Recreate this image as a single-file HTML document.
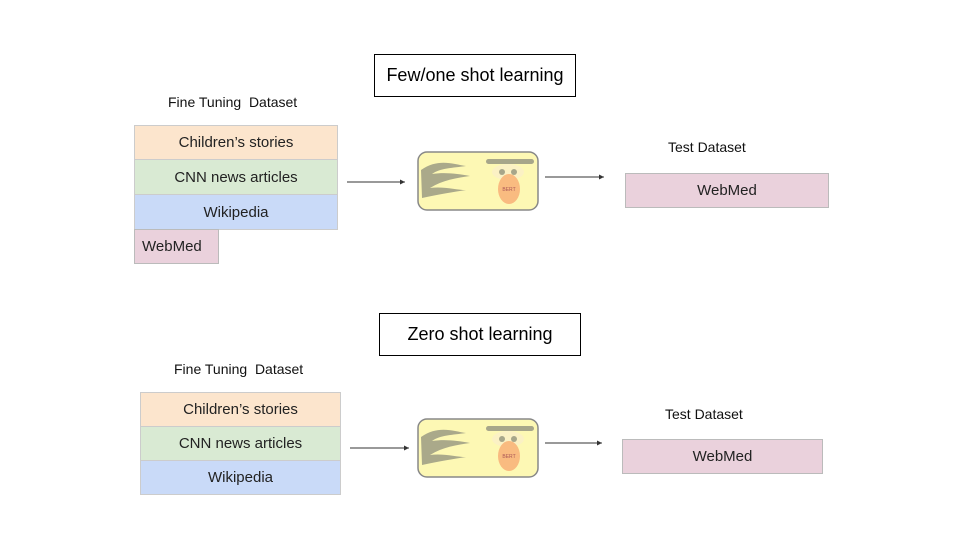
<!DOCTYPE html>
<html><head><style>
body{margin:0;width:960px;height:540px;background:#fff;position:relative;font-family:"Liberation Sans",sans-serif;overflow:hidden}
.a{position:absolute;box-sizing:border-box;display:flex;align-items:center;justify-content:center;font-size:15px;color:#222}
.c{background:#fce5cd;border:1px solid #ccc}
.g{background:#d9ead3;border:1px solid #ccc}
.b{background:#c9daf8;border:1px solid #ccc}
.p{background:#ead1dc;border:1px solid #bbb}
.t{border:1px solid #000;background:#fff;font-size:18px;color:#000}
.l{position:absolute;font-size:14px;color:#111;font-family:"Liberation Sans",sans-serif}
svg{position:absolute;left:0;top:0}
</style></head><body>
<div class="a t" style="left:374px;top:54px;width:202px;height:43px">Few/one shot learning</div>
<div class="a t" style="left:379px;top:313px;width:202px;height:43px">Zero shot learning</div>
<div class="l" style="left:168px;top:94px">Fine Tuning&nbsp; Dataset</div>
<div class="l" style="left:174px;top:361px">Fine Tuning&nbsp; Dataset</div>
<div class="l" style="left:668px;top:139px">Test Dataset</div>
<div class="l" style="left:665px;top:406px">Test Dataset</div>
<div class="a c" style="left:134px;top:125px;width:204px;height:35px">Children’s stories</div>
<div class="a g" style="left:134px;top:159px;width:204px;height:36px">CNN news articles</div>
<div class="a b" style="left:134px;top:194px;width:204px;height:36px">Wikipedia</div>
<div class="a p" style="left:134px;top:229px;width:85px;height:35px;justify-content:flex-start;padding-left:7px">WebMed</div>
<div class="a c" style="left:140px;top:392px;width:201px;height:35px">Children’s stories</div>
<div class="a g" style="left:140px;top:426px;width:201px;height:35px">CNN news articles</div>
<div class="a b" style="left:140px;top:460px;width:201px;height:35px">Wikipedia</div>
<div class="a p" style="left:625px;top:173px;width:204px;height:35px">WebMed</div>
<div class="a p" style="left:622px;top:439px;width:201px;height:35px">WebMed</div>
<svg width="960" height="540">
<defs>
<marker id="m" markerWidth="6" markerHeight="6" refX="5" refY="3" orient="auto"><path d="M0,0.5 L5,3 L0,5.5z" fill="#333"/></marker>
<g id="bert">
<rect x="0" y="0" width="120" height="58" rx="9" fill="#fdf8b4" stroke="#888" stroke-width="1.5"/>
<path d="M3,18 C20,6 35,12 48,14 C35,16 22,16 14,22 C28,20 40,22 52,24 C38,26 25,28 12,36 C25,34 38,38 48,38 C36,40 22,42 4,46 Z" fill="#aaa98a"/>
<rect x="68" y="7" width="48" height="5" rx="2.5" fill="#a7a68a"/>
<ellipse cx="90" cy="20" rx="16" ry="8" fill="#fbf1c4"/>
<circle cx="84" cy="20" r="3" fill="#a7a68a"/><circle cx="96" cy="20" r="3" fill="#a7a68a"/>
<ellipse cx="91" cy="37" rx="11" ry="15" fill="#f9bb80"/>
<text x="91" y="39" font-size="5" text-anchor="middle" fill="#a55" font-family="Liberation Sans">BERT</text>
</g>
</defs>
<use href="#bert" x="418" y="152"/>
<use href="#bert" x="418" y="419"/>
<line x1="347" y1="182" x2="405" y2="182" stroke="#333" marker-end="url(#m)"/>
<line x1="545" y1="177" x2="604" y2="177" stroke="#333" marker-end="url(#m)"/>
<line x1="350" y1="448" x2="409" y2="448" stroke="#333" marker-end="url(#m)"/>
<line x1="545" y1="443" x2="602" y2="443" stroke="#333" marker-end="url(#m)"/>
</svg>
</body></html>
